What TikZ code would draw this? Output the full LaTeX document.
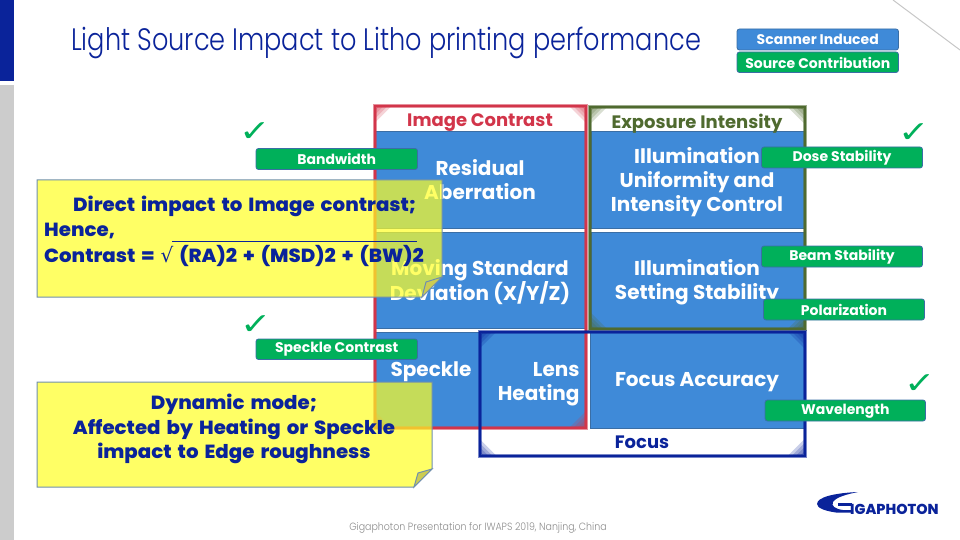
\documentclass[tikz,border=0pt]{standalone}
\usepackage{fontspec}
\usetikzlibrary{calc}
\setmainfont{Poppins}
\newfontfamily\fb{Poppins}
\newfontfamily\fx{Poppins ExtraBold}[FakeStretch=1.04,WordSpace=1.6]
\newfontfamily\fl{Poppins ExtraBold}
\newfontfamily\ft{Poppins Light}[FakeStretch=0.826]
\newfontfamily\fc{Poppins Light}[FakeStretch=0.9]
\newfontfamily\dejav{DejaVu Sans}
\definecolor{navy}{HTML}{0A239A}
\definecolor{cellblue}{HTML}{3F8AD8}
\definecolor{tagblue}{HTML}{3F8AD8}
\definecolor{tagedge}{HTML}{3A6EA5}
\definecolor{srcgreen}{HTML}{00B05A}
\definecolor{redframe}{HTML}{D2354A}
\definecolor{greenframe}{HTML}{4F6A2F}
\definecolor{notefill}{HTML}{FFFF24}
\definecolor{noteedge}{HTML}{6F8FAF}
\definecolor{foldfill}{HTML}{CCCC52}
\tikzset{
 cellbox/.style={fill=cellblue,draw=tagedge,line width=.6pt},
 celltext/.style={text=white,font=\fb\bfseries\fontsize{20}{24}\selectfont,align=center},
 headtext/.style={font=\fb\bfseries\fontsize{18}{20}\selectfont},
 notetext/.style={text=navy,font=\fx\fontsize{19}{24.5}\selectfont,align=center},
 tick/.style={text=srcgreen,font=\dejav\fontsize{30}{30}\selectfont,inner sep=0pt},
 notebody/.style={fill=notefill,fill opacity=.7,draw=noteedge,line width=1pt},
 notefold/.style={fill=foldfill,draw=noteedge,line width=1pt},
}
\newcommand{\tagat}[6]{%
 \fill[#5,rounded corners=2.5pt,draw=tagedge,line width=.8pt] (#1,#2) rectangle (#3,#4);
 \node[text=white,font=\fb\bfseries\fontsize{14}{16}\selectfont,inner sep=0pt] at ({(#1+#3)/2},{(#2+#4)/2+.3}) {#6};}
% corner glow: corner x, y, direction x, y, colour
\newcommand{\glowat}[5]{%
 \foreach \s in {5,9,13,17}{%
  \fill[#5,opacity=.22] (#1,#2) -- ++({#3*\s},0) -- ({#1},{#2+#4*\s}) -- cycle;}}
% frame: left, top, right, bottom, colour
\newcommand{\frameat}[5]{%
 \draw[#5,opacity=.55,line width=4pt] (#1,#2) rectangle (#3,#4);
 \draw[#5,line width=2pt] (#1,#2) rectangle (#3,#4);
 \glowat{#1}{#2}{1}{1}{#5}
 \glowat{#3}{#2}{-1}{1}{#5}
 \glowat{#1}{#4}{1}{-1}{#5}
 \glowat{#3}{#4}{-1}{-1}{#5}}
\begin{document}
\begin{tikzpicture}[x=1pt,y=-1pt]
\useasboundingbox (0,0) rectangle (960,540);
% background
\fill[navy] (0,0) rectangle (13.5,81);
\fill[black!20] (0,85) rectangle (13.5,540);
\draw[black!22,line width=1pt] (893,0) -- (960,50);
% title
\node[anchor=west,text=navy,font=\ft\fontsize{31}{36}\selectfont,inner sep=0pt] (title) at (71,43) {Light Source Impact to Litho printing performance};
% legend
\tagat{737}{29}{898.5}{50}{tagblue}{Scanner Induced}
\tagat{737}{52}{898.5}{72.5}{srcgreen}{Source Contribution}
% cells
\path[cellbox] (375,131) rectangle (586,228);
\path[cellbox] (375,232) rectangle (586,328);
\path[cellbox] (375,332) rectangle (586,428);
\path[cellbox] (591,131) rectangle (804,228);
\path[cellbox] (591,232) rectangle (804,328);
\path[cellbox] (590,332) rectangle (804,428);
% cell text
\node[celltext] (c1) at (480,180) {Residual\\Aberration};
\node[celltext] (c2) at (480,282) {Moving Standard\\Deviation (X/Y/Z)};
\node[celltext] (c3) at (431,372) {Speckle};
\node[celltext,align=right,anchor=east] (c4) at (583,384) {Lens\\Heating};
\node[celltext] (c5) at (697,182) {Illumination\\Uniformity and\\Intensity Control};
\node[celltext] (c6) at (697,282) {Illumination\\Setting Stability};
\node[celltext] (c7) at (697,382) {Focus Accuracy};
% frames
\frameat{374.5}{106}{586}{428}{redframe}
\frameat{590}{107}{804.5}{329}{greenframe}
\frameat{479.5}{331.5}{804.5}{456}{navy}
\node[headtext,text=redframe] (h1) at (480,123) {Image Contrast};
\node[headtext,text=greenframe] (h2) at (697,124) {Exposure Intensity};
\node[headtext,text=navy] (h3) at (642,442) {Focus};
% tags
\tagat{256}{148.5}{417.5}{169.5}{srcgreen}{Bandwidth}
\tagat{256}{339}{417.5}{359.5}{srcgreen}{Speckle Contrast}
\tagat{761.5}{147}{922.5}{168}{srcgreen}{Dose Stability}
\tagat{761.5}{246}{922.5}{267}{srcgreen}{Beam Stability}
\tagat{763.5}{299}{924.5}{320}{srcgreen}{Polarization}
\tagat{765}{400}{925.5}{421}{srcgreen}{Wavelength}
% ticks
\node[tick] (t1) at (255,132) {\scalebox{1.25}[1]{✓}};
\node[tick] (t2) at (914,133) {\scalebox{1.25}[1]{✓}};
\node[tick] (t3) at (256,325) {\scalebox{1.25}[1]{✓}};
\node[tick] (t4) at (920,384) {\scalebox{1.25}[1]{✓}};
% notes
\path[notebody] (37,180) -- (442,180) -- (442,277) -- (422,297) -- (37,297) -- cycle;
\path[notefold] (442,277) -- (426,282) -- (422,297) -- cycle;
\path[notebody] (37,382) -- (432,382) -- (432,469) -- (414,487) -- (37,487) -- cycle;
\path[notefold] (432,469) -- (418,473) -- (414,487) -- cycle;
\node[notetext,anchor=west,inner sep=0pt] (n1a) at (73,206) {Direct impact to Image contrast;};
\node[notetext,anchor=west,inner sep=0pt] (n1b) at (44,231) {Hence,};
\node[notetext,anchor=west,inner sep=0pt] (n1c) at (44,256) {Contrast = {\dejav\fontsize{20}{20}\selectfont √} (RA)2 + (MSD)2 + (BW)2};
\draw[navy,line width=.8pt] (172,241) -- (417,241);
\node[notetext] (n2) at (234,429) {Dynamic mode;\\Affected by Heating or Speckle\\impact to Edge roughness};
% footer
\node[text=black!45,font=\fc\fontsize{10.5}{12}\selectfont,inner sep=0pt] (foot) at (478,527.5) {Gigaphoton Presentation for IWAPS 2019, Nanjing, China};
% logo
\fill[navy] (858,492) .. controls (835,493) and (817,497) .. (817,504) .. controls (817,508) and (825,511) .. (836,512.5) -- (852,512.5) -- (852,510) -- (843,510) .. controls (835,509) and (831,506) .. (833,502) .. controls (836,497) and (848,494) .. (858,492) -- cycle;
\fill[navy] (838,503) rectangle (852,505.5);
\node[anchor=west,text=navy,font=\fl\fontsize{14.4}{15}\selectfont,inner sep=0pt] (logo) at (850,509) {IGAPHOTON};
\end{tikzpicture}
\end{document}
